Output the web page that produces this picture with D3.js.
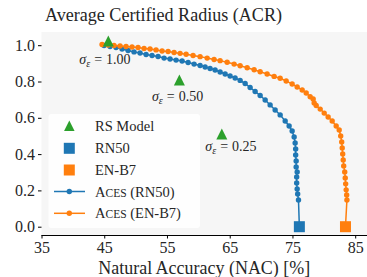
<!DOCTYPE html>
<html><head><meta charset="utf-8">
<script src="https://cdn.jsdelivr.net/npm/d3@7"></script>
<style>html,body{margin:0;padding:0;background:#fff;}svg{display:block;}</style>
</head><body>
<script>
// ---- data ----
const xTicks = [35, 45, 55, 65, 75, 85];
const yTicks = [0.0, 0.2, 0.4, 0.6, 0.8, 1.0];

const rsSigma = ["1.00", "0.50", "0.25"];
const rsNAC = [45.65, 56.98, 63.74];
const rsACR = [1.023, 0.808, 0.511];

const baseNames = ["RN50", "EN-B7"];
const baseNAC = [76.1, 83.45];
const baseACR = [0.0, 0.0];

const acesRN50NAC = [44.97,45.93,46.88,47.84,48.80,49.75,50.71,51.67,52.62,53.58,54.54,55.49,56.45,57.41,58.37,59.32,60.28,61.08,61.87,62.67,63.47,64.27,65.06,65.86,66.66,67.46,68.25,69.05,69.85,70.65,71.44,72.24,73.04,73.84,74.47,74.95,75.27,75.43,75.51,75.51,75.59,75.59,75.75,75.67,75.67,75.75,75.83,75.96,76.1];
const acesRN50ACR = [0.998,0.993,0.987,0.979,0.971,0.963,0.957,0.949,0.943,0.938,0.929,0.924,0.918,0.913,0.905,0.896,0.888,0.880,0.872,0.863,0.852,0.841,0.830,0.819,0.806,0.789,0.767,0.745,0.723,0.698,0.671,0.643,0.616,0.582,0.555,0.527,0.494,0.461,0.428,0.395,0.362,0.329,0.302,0.274,0.241,0.208,0.180,0.147,0.0];

const acesENB7NAC = [44.65,45.61,46.56,47.52,48.48,49.43,50.39,51.35,52.30,53.26,54.22,55.18,56.13,57.09,58.05,59.16,60.28,61.40,62.51,63.47,64.59,65.70,66.66,67.78,68.89,69.85,70.96,72.08,73.04,74.00,74.95,75.75,76.55,77.19,77.82,78.30,78.46,78.78,79.42,80.06,80.69,81.33,81.97,82.45,82.69,82.85,82.93,83.01,83.09,83.17,83.33,83.41,83.48,83.56,83.64,83.68,83.45];
const acesENB7ACR = [1.004,1.001,0.998,0.996,0.993,0.990,0.987,0.982,0.979,0.974,0.968,0.965,0.960,0.955,0.950,0.943,0.937,0.929,0.921,0.915,0.906,0.896,0.887,0.876,0.865,0.854,0.841,0.828,0.818,0.803,0.786,0.770,0.753,0.737,0.716,0.704,0.682,0.668,0.648,0.626,0.604,0.582,0.555,0.533,0.500,0.467,0.434,0.401,0.368,0.335,0.302,0.269,0.236,0.203,0.175,0.147,0.0];

// ---- style / layout ----
const W = 367, H = 277;
const FONT = "Times";
const C = {blue: "#1f77b4", orange: "#ff7f0e", green: "#2ca02c", text: "#262626"};
const labelOffsets = [[-29, 23], [-27.5, 21], [-16.5, 17]];

const svg = d3.select("body").append("svg").attr("width", W).attr("height", H)
  .style("font-family", FONT);
const x = d3.scaleLinear().domain([35, 85]).range([41.5, 355.2]);
const y = d3.scaleLinear().domain([0, 1]).range([226.7, 45.2]);
const plot = {l: 41.5, r: 367, t: 32, b: 235};

svg.append("rect").attr("x", plot.l).attr("y", plot.t)
  .attr("width", plot.r - plot.l).attr("height", plot.b - plot.t).attr("fill", "#f6f6f6");

// title
svg.append("text").attr("x", 45).attr("y", 21).attr("font-size", 18).style("font-family", FONT)
  .attr("textLength", 237).attr("lengthAdjust", "spacingAndGlyphs")
  .attr("fill", C.text).text("Average Certified Radius (ACR)");

// x axis
const xAxis = svg.append("g").attr("transform", `translate(0,${plot.b})`)
  .call(d3.axisBottom(x).tickValues(xTicks).tickSize(3.5).tickPadding(3).tickFormat(d3.format("d")));
xAxis.select(".domain").attr("d", `M${plot.l},0.5H${plot.r}`).attr("stroke", "#000").attr("stroke-width", 1);
xAxis.selectAll("text").attr("font-size", 16).style("font-family", FONT).attr("fill", C.text);

// y axis (ticks only)
const yAxis = svg.append("g").attr("transform", `translate(${plot.l},0)`)
  .call(d3.axisLeft(y).tickValues(yTicks).tickSize(3.5).tickPadding(3).tickFormat(d3.format(".1f")));
yAxis.select(".domain").remove();
yAxis.selectAll("text").attr("font-size", 16).style("font-family", FONT).attr("fill", C.text);

svg.append("text").attr("x", (plot.l + plot.r) / 2).attr("y", 274).attr("text-anchor", "middle")
  .attr("font-size", 18).style("font-family", FONT).attr("textLength", 212).attr("lengthAdjust", "spacingAndGlyphs")
  .attr("fill", C.text).text("Natural Accuracy (NAC) [%]");

// ACES curves
function drawAces(nac, acr, color) {
  const pts = nac.map((v, i) => [v, acr[i]]);
  svg.append("path").datum(pts).attr("fill", "none").attr("stroke", color).attr("stroke-width", 1.5)
    .attr("d", d3.line().x(d => x(d[0])).y(d => y(d[1])));
  svg.append("g").selectAll("circle").data(pts).join("circle")
    .attr("cx", d => x(d[0])).attr("cy", d => y(d[1])).attr("r", 2.7).attr("fill", color);
}
drawAces(acesRN50NAC, acesRN50ACR, C.blue);
drawAces(acesENB7NAC, acesENB7ACR, C.orange);

// triangles
function tri(cx, cy, s) {
  const h = s / 2;
  return `M${cx},${cy - h}L${cx + h},${cy + h}L${cx - h},${cy + h}Z`;
}
rsNAC.forEach((v, i) => {
  const cx = x(v), cy = y(rsACR[i]);
  svg.append("path").attr("d", tri(cx, cy, 11)).attr("fill", C.green);
  const t = svg.append("text").attr("x", cx + labelOffsets[i][0]).attr("y", cy + labelOffsets[i][1])
    .attr("font-size", 14).style("font-family", FONT).attr("fill", C.text);
  t.append("tspan").attr("font-style", "italic").text("σ");
  t.append("tspan").attr("font-style", "italic").attr("font-size", 10).attr("dy", 3).text("ε");
  t.append("tspan").attr("dy", -3).attr("dx", 4).text("=");
  t.append("tspan").attr("dx", 4).text(rsSigma[i]);
});

// base model squares
const baseColors = [C.blue, C.orange];
baseNAC.forEach((v, i) => {
  svg.append("rect").attr("x", x(v) - 5.5).attr("y", y(baseACR[i]) - 5.5)
    .attr("width", 11).attr("height", 11).attr("fill", baseColors[i]);
});

// legend
const lg = svg.append("g");
lg.append("rect").attr("x", 48.5).attr("y", 114).attr("width", 151.5).attr("height", 114)
  .attr("rx", 3).attr("fill", "#fff").attr("fill-opacity", 0.9);
const rows = [125.7, 148.3, 170, 191.5, 213.3];
const mx = 69.3, tx = 95;
lg.append("path").attr("d", tri(mx, rows[0], 10.5)).attr("fill", C.green);
lg.append("rect").attr("x", mx - 5.5).attr("y", rows[1] - 5.5).attr("width", 11).attr("height", 11).attr("fill", C.blue);
lg.append("rect").attr("x", mx - 5.5).attr("y", rows[2] - 5.5).attr("width", 11).attr("height", 11).attr("fill", C.orange);
[[rows[3], C.blue], [rows[4], C.orange]].forEach(([ry, c]) => {
  lg.append("line").attr("x1", 54).attr("x2", 85).attr("y1", ry).attr("y2", ry).attr("stroke", c).attr("stroke-width", 1.5);
  lg.append("circle").attr("cx", mx).attr("cy", ry).attr("r", 2.7).attr("fill", c);
});
const legTexts = ["RS Model", baseNames[0], baseNames[1]];
legTexts.forEach((s, i) => {
  lg.append("text").attr("x", tx).attr("y", rows[i] + 5).attr("font-size", 14.5).style("font-family", FONT)
    .attr("fill", C.text).text(s);
});
baseNames.forEach((n, i) => {
  const t = lg.append("text").attr("x", tx).attr("y", rows[3 + i] + 5).attr("font-size", 14.5)
    .style("font-family", FONT).attr("fill", C.text);
  t.append("tspan").text("A");
  t.append("tspan").attr("font-size", 11.5).text("CES");
  t.append("tspan").text(" (" + n + ")");
});
</script>
</body></html>
